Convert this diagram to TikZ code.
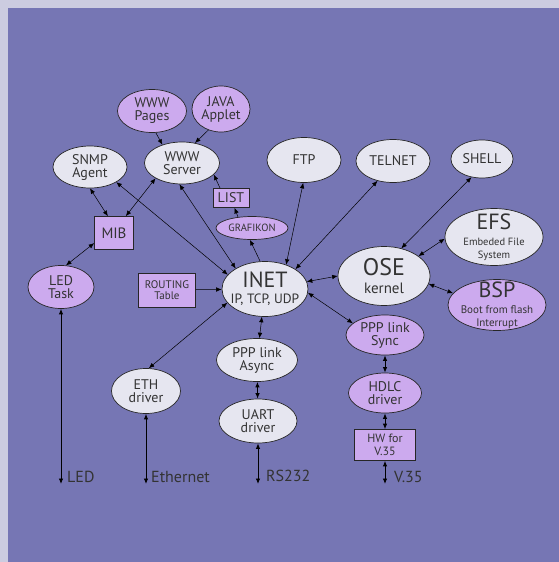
\documentclass[tikz,border=0pt]{standalone}
\usepackage{fontspec}
\setmainfont{PT Sans}
\usetikzlibrary{shapes.geometric,arrows.meta}
\definecolor{outerbg}{RGB}{204,204,224}
\definecolor{innerbg}{RGB}{118,118,180}
\definecolor{lightfill}{RGB}{230,230,240}
\definecolor{purplefill}{RGB}{204,170,238}
\definecolor{ink}{RGB}{51,51,51}
\newcommand{\myfs}[1]{\fontsize{#1}{#1}\selectfont}
\tikzset{
  base/.style={draw=black!85, line width=0.7pt, align=center, text=ink, font=\myfs{14}},
  lell/.style={base, ellipse, fill=lightfill, inner xsep=-12pt, inner ysep=-6pt},
  pell/.style={base, ellipse, fill=purplefill, inner xsep=-12pt, inner ysep=-6pt},
  pbox/.style={base, rectangle, fill=purplefill, inner sep=0pt},
  one/.style={-{Latex[length=5.5pt,width=4.5pt]}, line width=0.5pt, draw=black},
  two/.style={{Latex[length=5.5pt,width=4.5pt]}-{Latex[length=5.5pt,width=4.5pt]}, line width=0.5pt, draw=black},
  bus/.style={{Latex[length=5.5pt,width=4.5pt]}-{Latex[length=5.5pt,width=4.5pt]}, line width=0.9pt, draw=black},
  portlabel/.style={anchor=west, inner sep=0pt, text=ink, font=\myfs{16}},
}
\begin{document}
\begin{tikzpicture}[x=1pt, y=-1pt]
\useasboundingbox (0,0) rectangle (559,562);
\fill[outerbg] (0,0) rectangle (559,562);
\fill[innerbg] (8,8) rectangle (559,562);

% nodes
\node[pell, minimum width=69pt, minimum height=43pt] (pages) at (152,111) {WWW\\[-1pt]Pages};
\node[pell, minimum width=58pt, minimum height=46pt] (java) at (221,109) {JAVA\\[-1pt]Applet};
\node[lell, minimum width=74pt, minimum height=42pt] (snmp) at (90,167) {SNMP\\[-1pt]Agent};
\node[lell, minimum width=75pt, minimum height=42pt] (wwws) at (182,163) {WWW\\[-1pt]Server};
\node[pbox, minimum width=36pt, minimum height=19pt] (list) at (231,198) {LIST};
\node[pell, minimum width=72pt, minimum height=23pt, font=\myfs{10.5}] (graf) at (252,228) {GRAFIKON};
\node[pbox, minimum width=39pt, minimum height=33pt, font=\myfs{15}] (mib) at (114,233) {MIB};
\node[pell, minimum width=66pt, minimum height=43pt] (led) at (61,287) {LED\\[-1pt]Task};
\node[pbox, minimum width=57pt, minimum height=34pt, font=\myfs{11}] (route) at (167,290) {ROUTING\\[0pt]Table};
\node[lell, minimum width=86pt, minimum height=55pt] (inet) at (265,289) {{\myfs{22}INET}\\[2pt]{\myfs{13.5}IP, TCP, UDP}};
\node[lell, minimum width=74pt, minimum height=45pt] (ftp) at (304,160) {FTP};
\node[lell, minimum width=74pt, minimum height=43pt] (telnet) at (393,161) {TELNET};
\node[lell, minimum width=62pt, minimum height=38pt] (shell) at (482,159) {SHELL};
\node[lell, minimum width=98pt, minimum height=57pt] (efs) at (494,237) {{\myfs{22}EFS}\\[2pt]{\myfs{10.5}Embeded File}\\[-1pt]{\myfs{10.5}System}};
\node[lell, minimum width=92pt, minimum height=59pt] (ose) at (384,276) {{\myfs{24}OSE}\\[4pt]{\myfs{15}kernel}};
\node[pell, minimum width=98pt, minimum height=51pt] (bsp) at (497,305) {{\myfs{22}BSP}\\[2pt]{\myfs{11}Boot from flash}\\[-1pt]{\myfs{11}Interrupt}};
\node[pell, minimum width=78pt, minimum height=40pt] (sync) at (385,335) {PPP link\\[-1pt]Sync};
\node[pell, minimum width=73pt, minimum height=40pt] (hdlc) at (385,393) {HDLC\\[-1pt]driver};
\node[pbox, minimum width=61pt, minimum height=31pt, font=\myfs{12}] (hw) at (385,445) {HW for\\[1pt]V.35};
\node[lell, minimum width=81pt, minimum height=43pt] (async) at (257,360) {PPP link\\[-1pt]Async};
\node[lell, minimum width=78pt, minimum height=44pt] (uart) at (258,421) {UART\\[-1pt]driver};
\node[lell, minimum width=69pt, minimum height=45pt] (eth) at (146,391) {ETH\\[-1pt]driver};

% port ends and labels
\coordinate (ledend) at (61,484);
\coordinate (ethend) at (146,484);
\coordinate (rsend) at (258,484);
\coordinate (vend) at (385,484);
\node[portlabel] (ledlbl) at (67,477) {LED};
\node[portlabel] (ethlbl) at (151,477) {Ethernet};
\node[portlabel] (rslbl) at (266,476) {RS232};
\node[portlabel] (vlbl) at (394,477) {V.35};

% connectors
\draw[one] (pages.-80) -- (wwws.137);
\draw[one] (java.239) -- (wwws.57);
\draw[two] (snmp.270) -- (mib.110);
\draw[two] (wwws.210) -- (mib.55);
\draw[two] (snmp.-30) -- (inet.159);
\draw[two] (wwws.263) -- (inet.145);
\draw[one] (list.138) -- (wwws.-20);
\draw[one] (graf.142) -- (list.-70);
\draw[one] (inet.100) -- (graf.-100);
\draw[two] (mib.207) -- (led.77);
\draw[one] (route) -- (inet);
\draw[two] (inet.49) -- (ftp.268);
\draw[two] (inet.33) -- (telnet.232);
\draw[two] (shell.240) -- (ose.58);
\draw[two] (efs.182) -- (ose.30);
\draw[two] (ose.-10) -- (bsp.165);
\draw[two] (inet.10) -- (ose.180);
\draw[two] (inet.-5) -- (sync.160);
\draw[two] (inet) -- (async);
\draw[two] (inet.200) -- (eth.83);
\draw[bus] (async) -- (uart);
\draw[bus] (sync) -- (hdlc);
\draw[bus] (hdlc) -- (hw);
\draw[bus] (hw) -- (vend);
\draw[bus] (uart) -- (rsend);
\draw[bus] (eth) -- (ethend);
\draw[bus] (led) -- (ledend);
\end{tikzpicture}
\end{document}
